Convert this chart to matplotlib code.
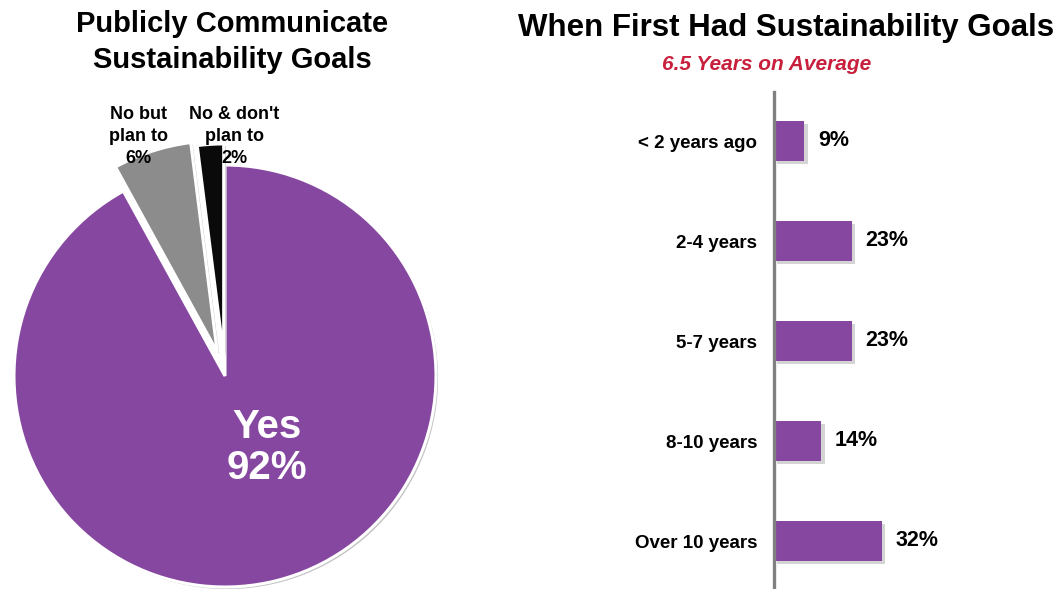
import matplotlib
matplotlib.use("Agg")
import matplotlib.pyplot as plt
import matplotlib.patheffects as pe

plt.rcParams["font.family"] = ["Liberation Sans", "DejaVu Sans"]

PURPLE = "#8647A0"
# pie data
pie_labels = ["Yes", "No but\nplan to", "No & don't\nplan to"]
pie_values = [92, 6, 2]
pie_colors = [PURPLE, "#8C8C8C", "#0A0A0A"]

# bar data
bar_cats = ["< 2 years ago", "2-4 years", "5-7 years", "8-10 years", "Over 10 years"]
bar_values = [9, 23, 23, 14, 32]

W, H = 1062, 589
fig = plt.figure(figsize=(W / 100, H / 100), dpi=100)

def px_axes(x0, y0, w, h):
    return fig.add_axes([x0 / W, 1 - (y0 + h) / H, w / W, h / H])

shadow = [pe.SimplePatchShadow(offset=(1.5, -1.5), shadow_rgbFace="#999999", alpha=0.6), pe.Normal()]

# ---- pie ----
axp = px_axes(14, 165, 422, 422)
wedges, _ = axp.pie(pie_values, colors=pie_colors, startangle=90, counterclock=False,
                    explode=[0, 0.12, 0.1], radius=1,
                    wedgeprops=dict(edgecolor="white", linewidth=2.2))
for w in wedges:
    w.set_clip_on(False)
    w.set_path_effects(shadow)
axp.set_xlim(-1, 1)
axp.set_ylim(-1, 1)
axp.set_aspect("equal")
axp.axis("off")

axp.text(0.2, -0.34, f"{pie_labels[0]}\n{pie_values[0]}%", ha="center", va="center",
         color="white", fontsize=29, fontweight="bold", linespacing=1.1)
axp.text(-0.41, 1.135, f"{pie_labels[1]}\n{pie_values[1]}%", ha="center", va="center",
         color="black", fontsize=13, fontweight="bold", linespacing=1.4)
axp.text(0.045, 1.135, f"{pie_labels[2]}\n{pie_values[2]}%", ha="center", va="center",
         color="black", fontsize=13, fontweight="bold", linespacing=1.4, zorder=5)

fig.text(232 / W, 1 - 42 / H, "Publicly Communicate\nSustainability Goals", ha="center",
         va="center", fontsize=21, fontweight="bold", linespacing=1.35)

# ---- bars ----
axb = px_axes(774, 92, 288, 497)
y = list(range(len(bar_cats)))
bars = axb.barh(y, bar_values, height=0.4, color=PURPLE)
for b in bars:
    b.set_path_effects([pe.SimplePatchShadow(offset=(2.5, -2.5), shadow_rgbFace="#aaaaaa", alpha=0.5),
                        pe.Normal()])
axb.set_xlim(0, 288 / 3.37)
axb.set_ylim(4.48, -0.49)
for s in ["top", "right", "bottom"]:
    axb.spines[s].set_visible(False)
axb.spines["left"].set_color("#808080")
axb.spines["left"].set_linewidth(2.4)
axb.set_xticks([])
axb.set_yticks(y)
axb.set_yticklabels(bar_cats, fontsize=13.5, fontweight="bold")
axb.tick_params(axis="y", length=0, pad=12)
for yi, v in zip(y, bar_values):
    axb.text(v + 4.0, yi, f"{v}%", va="center", ha="left", fontsize=15.5, fontweight="bold")

fig.text(786 / W, 1 - 28 / H, "When First Had Sustainability Goals", ha="center",
         va="center", fontsize=22.5, fontweight="bold")
fig.text(767 / W, 1 - 65 / H, "6.5 Years on Average", ha="center", va="center",
         fontsize=15, fontweight="bold", style="italic", color="#C8203C")

fig.savefig("out.png", dpi=100)
